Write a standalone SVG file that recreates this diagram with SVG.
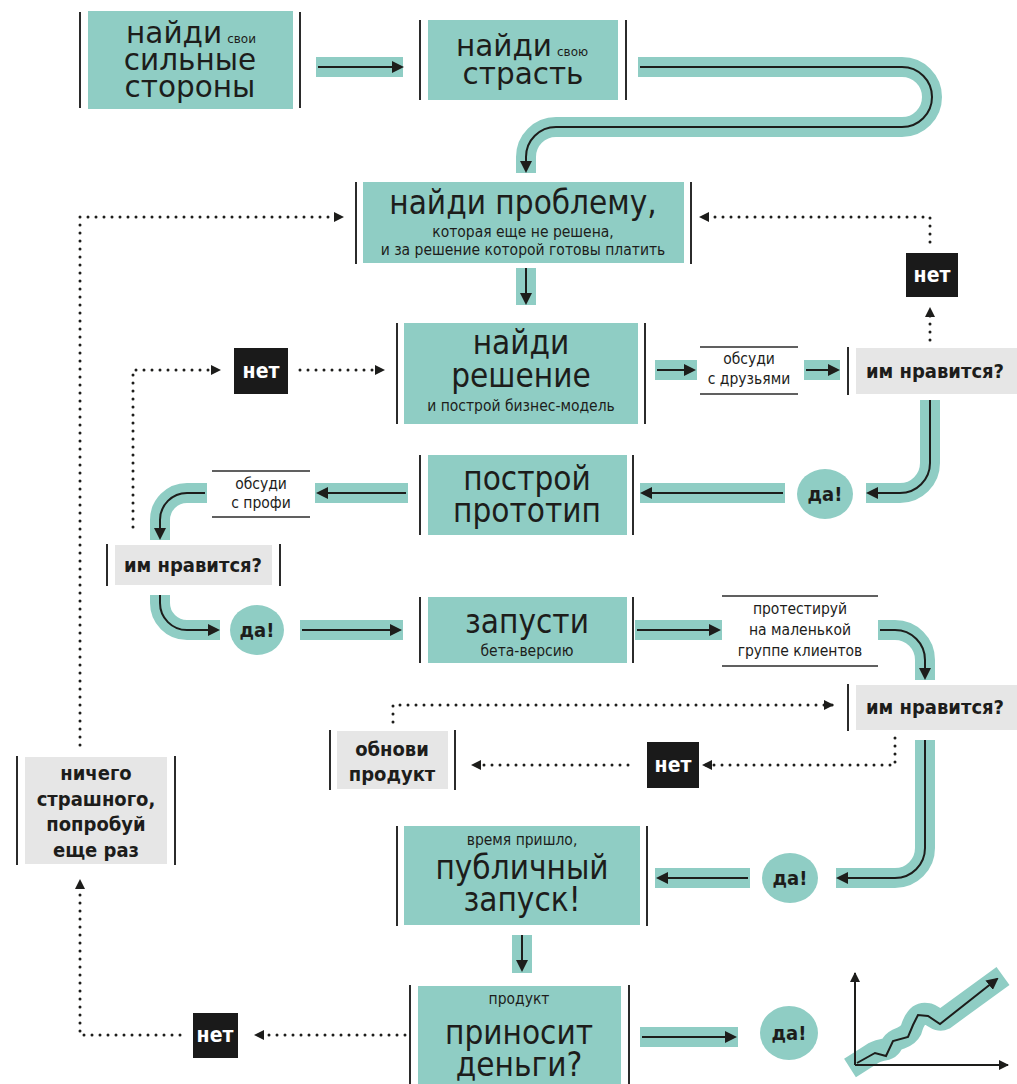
<svg xmlns="http://www.w3.org/2000/svg" width="1017" height="1084" viewBox="0 0 1017 1084">
<defs>
<marker id="ah" viewBox="0 0 12 12" refX="10" refY="6" markerWidth="12" markerHeight="12" markerUnits="userSpaceOnUse" orient="auto"><path d="M0,0 L12,6 L0,12 z" fill="#1d1d1b"/></marker>
<marker id="ahd" viewBox="0 0 10 10" refX="9" refY="5" markerWidth="10" markerHeight="10" markerUnits="userSpaceOnUse" orient="auto"><path d="M0,0 L10,5 L0,10 z" fill="#1d1d1b"/></marker>
<style>
.teal{fill:#8fcdc4}
.grey{fill:#e6e6e6}
.blk{fill:#1a1a1a}
.bar{stroke:#2b2b2b;stroke-width:2}
.rule{stroke:#2b2b2b;stroke-width:1.5}
.band{fill:none;stroke:#8fcdc4;stroke-width:20}
.ln{fill:none;stroke:#1d1d1b;stroke-width:2;marker-end:url(#ah)}
.dot{fill:none;stroke:#1d1d1b;stroke-width:3;stroke-linecap:round;stroke-dasharray:0 8;marker-end:url(#ahd)}
text{font-family:"DejaVu Sans Condensed","DejaVu Sans","Liberation Sans Narrow",sans-serif;font-stretch:condensed;fill:#1d1d1b;text-anchor:middle}
.wide{font-family:"DejaVu Sans",sans-serif;font-stretch:normal;font-size:29.5px}
.big{font-size:33px}
.sm{font-size:15.5px}
.lbl{font-size:20px;font-weight:bold}
.lbl2{font-size:20px;font-weight:bold}
.no{font-size:21px;font-weight:bold;fill:#ffffff}
.yes{font-size:20px;font-weight:bold}
</style>
</defs>

<g id="connectors">
  <line class="band" x1="316" y1="67" x2="403" y2="67"/>
  <path class="ln" d="M318 67 H402"/>
  <path class="band" d="M638 67 H902 A30 30 0 0 1 902 127 H556 A30 30 0 0 0 526 157 V173"/>
  <path class="ln" d="M640 67 H902 A30 30 0 0 1 902 127 H556 A30 30 0 0 0 526 157 V171"/>
  <line class="band" x1="526" y1="268" x2="526" y2="305"/>
  <path class="ln" d="M526 268 V303"/>
  <line class="band" x1="655" y1="370" x2="697" y2="370"/>
  <path class="ln" d="M657 370 H694"/>
  <line class="band" x1="804" y1="370" x2="840" y2="370"/>
  <path class="ln" d="M806 370 H838"/>
  <path class="band" d="M930 400 V463 A30 30 0 0 1 900 493 H866"/>
  <path class="ln" d="M930 400 V463 A30 30 0 0 1 900 493 H868"/>
  <line class="band" x1="785" y1="493" x2="640" y2="493"/>
  <path class="ln" d="M783 493 H642"/>
  <line class="band" x1="408" y1="493" x2="315" y2="493"/>
  <path class="ln" d="M406 493 H318"/>
  <path class="band" d="M207 493 H187 A27 27 0 0 0 160 520 V540"/>
  <path class="ln" d="M205 493 H187 A27 27 0 0 0 160 520 V538"/>
  <path class="band" d="M160 595 V603 A27 27 0 0 0 187 630 H220"/>
  <path class="ln" d="M160 595 V603 A27 27 0 0 0 187 630 H218"/>
  <line class="band" x1="300" y1="630" x2="403" y2="630"/>
  <path class="ln" d="M302 630 H400"/>
  <line class="band" x1="635" y1="630" x2="722" y2="630"/>
  <path class="ln" d="M637 630 H719"/>
  <path class="band" d="M878 630 H895 A30 30 0 0 1 925 660 V680"/>
  <path class="ln" d="M880 630 H895 A30 30 0 0 1 925 660 V678"/>
  <path class="band" d="M925 740 V848 A30 30 0 0 1 895 878 H836"/>
  <path class="ln" d="M925 740 V848 A30 30 0 0 1 895 878 H838"/>
  <line class="band" x1="750" y1="878" x2="655" y2="878"/>
  <path class="ln" d="M748 878 H658"/>
  <line class="band" x1="522" y1="935" x2="522" y2="973"/>
  <path class="ln" d="M522 935 V970"/>
  <line class="band" x1="640" y1="1037" x2="738" y2="1037"/>
  <path class="ln" d="M642 1037 H735"/>

  <path class="dot" d="M80 745 V217 H343"/>
  <path class="dot" d="M930 242 V217 H700"/>
  <path class="dot" d="M930 340 V308"/>
  <path class="dot" d="M133 527 V370 H220"/>
  <path class="dot" d="M300 370 H384"/>
  <path class="dot" d="M393 722 V705 H833"/>
  <path class="dot" d="M895 738 V765 H703"/>
  <path class="dot" d="M628 765 H472"/>
  <path class="dot" d="M405 1035 H255"/>
  <path class="dot" d="M180 1035 H80 V880"/>
</g>

<g id="n1">
  <line class="bar" x1="80" y1="12" x2="80" y2="108"/>
  <rect class="teal" x="88" y="11" width="205" height="98"/>
  <line class="bar" x1="300" y1="12" x2="300" y2="108"/>
  <text class="wide" x="191" y="43">найди<tspan font-size="12" dx="5">свои</tspan><tspan x="190" dy="27">сильные</tspan><tspan x="190" dy="27">стороны</tspan></text>
</g>

<g id="n2">
  <line class="bar" x1="420" y1="20" x2="420" y2="100"/>
  <rect class="teal" x="428" y="20" width="190" height="80"/>
  <line class="bar" x1="626" y1="20" x2="626" y2="100"/>
  <text class="wide" x="522" y="56">найди<tspan font-size="12" dx="5">свою</tspan><tspan x="523" dy="28">страсть</tspan></text>
</g>

<g id="n3">
  <line class="bar" x1="356" y1="182" x2="356" y2="264"/>
  <rect class="teal" x="363" y="182" width="321" height="81"/>
  <line class="bar" x1="691" y1="182" x2="691" y2="264"/>
  <text x="523" y="214"><tspan class="big">найди проблему,</tspan><tspan class="sm" x="523" dy="23">которая еще не решена,</tspan><tspan class="sm" x="523" dy="18">и за решение которой готовы платить</tspan></text>
</g>

<g id="n4">
  <line class="bar" x1="397" y1="323" x2="397" y2="424"/>
  <rect class="teal" x="404" y="323" width="234" height="101"/>
  <line class="bar" x1="645" y1="323" x2="645" y2="424"/>
  <text class="big" x="521" y="354">найди<tspan x="521" dy="33">решение</tspan><tspan class="sm" x="521" dy="24">и построй бизнес-модель</tspan></text>
</g>

<g id="talk1">
  <line class="rule" x1="700" y1="347" x2="798" y2="347"/>
  <line class="rule" x1="700" y1="394" x2="798" y2="394"/>
  <text class="sm" x="749" y="364">обсуди<tspan x="749" dy="20">с друзьями</tspan></text>
</g>

<g id="q1">
  <line class="bar" x1="848" y1="347" x2="848" y2="395"/>
  <rect class="grey" x="856" y="348" width="161" height="46"/>
  <text class="lbl" x="935" y="378">им нравится?</text>
</g>

<g id="no1">
  <rect class="blk" x="906" y="253" width="52" height="44"/>
  <text class="no" x="932" y="282">нет</text>
</g>

<g id="yes1">
  <ellipse class="teal" cx="825" cy="494" rx="28" ry="25"/>
  <text class="yes" x="825" y="501">да!</text>
</g>

<g id="n5">
  <line class="bar" x1="420" y1="455" x2="420" y2="535"/>
  <rect class="teal" x="428" y="455" width="199" height="80"/>
  <line class="bar" x1="633" y1="455" x2="633" y2="535"/>
  <text class="big" x="527" y="490">построй<tspan x="527" dy="32">прототип</tspan></text>
</g>

<g id="talk2">
  <line class="rule" x1="212" y1="471" x2="310" y2="471"/>
  <line class="rule" x1="212" y1="517" x2="310" y2="517"/>
  <text class="sm" x="261" y="489">обсуди<tspan x="261" dy="19">с профи</tspan></text>
</g>

<g id="no2">
  <rect class="blk" x="234" y="348" width="54" height="46"/>
  <text class="no" x="261" y="378">нет</text>
</g>

<g id="q2">
  <line class="bar" x1="107" y1="544" x2="107" y2="586"/>
  <rect class="grey" x="115" y="545" width="157" height="40"/>
  <line class="bar" x1="280" y1="544" x2="280" y2="586"/>
  <text class="lbl" x="193" y="572">им нравится?</text>
</g>

<g id="yes2">
  <ellipse class="teal" cx="257" cy="630" rx="27" ry="25"/>
  <text class="yes" x="257" y="637">да!</text>
</g>

<g id="n6">
  <line class="bar" x1="420" y1="597" x2="420" y2="663"/>
  <rect class="teal" x="428" y="597" width="199" height="66"/>
  <line class="bar" x1="633" y1="597" x2="633" y2="663"/>
  <text class="big" x="527" y="633">запусти<tspan class="sm" x="527" dy="23">бета-версию</tspan></text>
</g>

<g id="test">
  <line class="rule" x1="722" y1="596" x2="878" y2="596"/>
  <line class="rule" x1="722" y1="666" x2="878" y2="666"/>
  <text class="sm" x="800" y="614">протестируй<tspan x="800" dy="21">на маленькой</tspan><tspan x="800" dy="21">группе клиентов</tspan></text>
</g>

<g id="q3">
  <line class="bar" x1="848" y1="684" x2="848" y2="731"/>
  <rect class="grey" x="856" y="685" width="161" height="45"/>
  <text class="lbl" x="935" y="714">им нравится?</text>
</g>

<g id="update">
  <line class="bar" x1="330" y1="730" x2="330" y2="790"/>
  <rect class="grey" x="337" y="731" width="111" height="58"/>
  <line class="bar" x1="455" y1="730" x2="455" y2="790"/>
  <text class="lbl2" x="392" y="756">обнови<tspan x="392" dy="25">продукт</tspan></text>
</g>

<g id="no3">
  <rect class="blk" x="647" y="742" width="52" height="46"/>
  <text class="no" x="673" y="772">нет</text>
</g>

<g id="yes3">
  <ellipse class="teal" cx="790" cy="878" rx="28" ry="25"/>
  <text class="yes" x="790" y="885">да!</text>
</g>

<g id="n7">
  <line class="bar" x1="397" y1="826" x2="397" y2="926"/>
  <rect class="teal" x="404" y="826" width="236" height="99"/>
  <line class="bar" x1="647" y1="826" x2="647" y2="926"/>
  <text x="522" y="845"><tspan class="sm">время пришло,</tspan><tspan class="big" x="522" dy="34">публичный</tspan><tspan class="big" x="522" dy="32">запуск!</tspan></text>
</g>

<g id="n8">
  <line class="bar" x1="410" y1="985" x2="410" y2="1084"/>
  <rect class="teal" x="418" y="986" width="203" height="98"/>
  <line class="bar" x1="629" y1="985" x2="629" y2="1084"/>
  <text x="519" y="1004"><tspan class="sm">продукт</tspan><tspan class="big" x="519" dy="40">приносит</tspan><tspan class="big" x="519" dy="32">деньги?</tspan></text>
</g>

<g id="no4">
  <rect class="blk" x="193" y="1013" width="45" height="45"/>
  <text class="no" x="215" y="1042">нет</text>
</g>

<g id="yes4">
  <ellipse class="teal" cx="789" cy="1033" rx="29" ry="27"/>
  <text class="yes" x="789" y="1040">да!</text>
</g>

<g id="retry">
  <line class="bar" x1="17" y1="756" x2="17" y2="865"/>
  <rect class="grey" x="25" y="757" width="142" height="107"/>
  <line class="bar" x1="175" y1="756" x2="175" y2="865"/>
  <text class="lbl2" x="96" y="780">ничего<tspan x="96" dy="26">страшного,</tspan><tspan x="96" dy="25">попробуй</tspan><tspan x="96" dy="26">еще раз</tspan></text>
</g>

<g id="graph">
  <path d="M850 1068 L872 1054 C880 1048 888 1052 892 1044 C897 1036 906 1040 911 1030 C914 1020 918 1012 928 1014 C934 1016 938 1022 944 1019 L1003 976" fill="none" stroke="#8fcdc4" stroke-width="22" stroke-linejoin="round"/>
  <path d="M855 1065 V973" fill="none" stroke="#1d1d1b" stroke-width="2" marker-end="url(#ahd)"/>
  <path d="M855 1065 H1008" fill="none" stroke="#1d1d1b" stroke-width="2" marker-end="url(#ahd)"/>
  <path d="M857 1063 L875 1053 L886 1056 L893 1041 L908 1037 L913 1025 L918 1015 L928 1016 L940 1024 L997 979" fill="none" stroke="#1d1d1b" stroke-width="2" marker-end="url(#ah)"/>
</g>
</svg>
